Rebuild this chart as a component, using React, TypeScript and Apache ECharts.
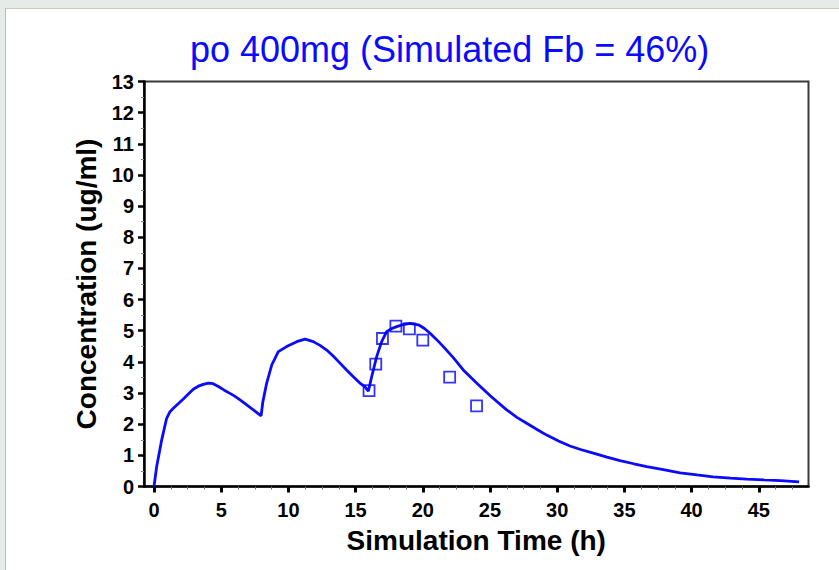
import React, { useEffect, useRef } from "react";
import * as echarts from "echarts";

const titleText = "po 400mg (Simulated Fb = 46%)";
const xAxisName = "Simulation Time (h)";
const yAxisName = "Concentration (ug/ml)";

// simulated profile (h, ug/ml)
const simTime = [
  0, 0.2, 0.57, 0.94, 1.19, 1.44, 2.18, 2.92, 3.3, 3.67, 4.04, 4.4, 4.79, 5.2, 5.65, 6.0,
  6.4, 6.9, 7.39, 7.97,
  8.1, 8.38, 8.76, 9.25, 9.87, 10.62, 11.24, 11.85, 12.35, 12.85, 13.35, 13.84, 14.33,
  14.83, 15.3, 15.7, 15.95,
  16.2, 16.57, 16.94, 17.31, 17.7, 18.06, 18.55, 19.05, 19.67, 20.1, 20.54, 21.0, 21.53,
  22.3, 23.01, 24.1, 25.1, 26.24, 27.0, 27.73, 28.5, 29.22, 30.1, 30.95, 31.8, 32.69,
  33.7, 34.67, 35.7, 36.66, 37.9, 39.14, 40.4, 41.6, 42.9, 44.1, 45.4, 46.6, 48.0,
];
const simConc = [
  0, 0.64, 1.49, 2.19, 2.4, 2.51, 2.81, 3.12, 3.22, 3.28, 3.32, 3.3, 3.21, 3.1, 2.99, 2.9,
  2.78, 2.62, 2.46, 2.27,
  2.72, 3.31, 3.9, 4.33, 4.49, 4.65, 4.73, 4.65, 4.53, 4.38, 4.18, 3.96, 3.74,
  3.52, 3.33, 3.2, 3.06,
  3.53, 4.17, 4.65, 4.97, 5.07, 5.13, 5.2, 5.24, 5.19, 5.08, 4.92, 4.73, 4.49,
  4.12, 3.74, 3.28, 2.88, 2.46, 2.22, 2.03, 1.83, 1.65, 1.46, 1.3, 1.18, 1.07,
  0.94, 0.83, 0.73, 0.64, 0.54, 0.44, 0.37, 0.31, 0.27, 0.24, 0.21, 0.19, 0.15,
];

// observed data
const obsTime = [16, 16.5, 17, 18, 19, 20, 22, 24];
const obsConc = [3.08, 3.93, 4.75, 5.15, 5.06, 4.7, 3.51, 2.59];

// axis ticks
const xMajorTicks = [0, 5, 10, 15, 20, 25, 30, 35, 40, 45];
const xMinorTicks = [
  1.25, 2.5, 3.75, 6.25, 7.5, 8.75, 11.25, 12.5, 13.75, 16.25, 17.5, 18.75, 21.25, 22.5,
  23.75, 26.25, 27.5, 28.75, 31.25, 32.5, 33.75, 36.25, 37.5, 38.75, 41.25, 42.5, 43.75,
  46.25, 47.5,
];
const xMin = -0.744;
const xMax = 48.7;
const yMin = 0;
const yMax = 13;
const yStep = 1;

const FONT = '"Liberation Sans", Arial, Helvetica, sans-serif';
const BLUE = "#0a0aff";

export default function App() {
  const ref = useRef<HTMLDivElement>(null);

  useEffect(() => {
    if (!ref.current) return;
    const chart = echarts.init(ref.current, null, { renderer: "svg" });
    const lineData = simTime.map((t, i) => [t, simConc[i]]);
    const obsData = obsTime.map((t, i) => [t, obsConc[i]]);

    chart.setOption({
      animation: false,
      backgroundColor: "#ffffff",
      title: {
        text: titleText,
        left: 190,
        top: 31,
        padding: 0,
        textStyle: {
          fontFamily: FONT,
          fontSize: 36,
          fontWeight: "normal",
          color: BLUE,
        },
      },
      graphic: [
        { type: "rect", shape: { x: 0, y: 0, width: 839, height: 8 }, style: { fill: "#e7ebe8" }, silent: true },
        { type: "rect", shape: { x: 0, y: 0, width: 5, height: 570 }, style: { fill: "#e7ebe8" }, silent: true },
        { type: "line", shape: { x1: 5, y1: 8.5, x2: 839, y2: 8.5 }, style: { stroke: "#cdc8bd", lineWidth: 1 }, silent: true },
        { type: "line", shape: { x1: 5.5, y1: 8, x2: 5.5, y2: 570 }, style: { stroke: "#b9b9b9", lineWidth: 1 }, silent: true },
      ],
      grid: {
        left: 144,
        top: 81.5,
        right: 30.5,
        bottom: 83.5,
        show: true,
        borderColor: "#3a3a3a",
        borderWidth: 2,
        backgroundColor: "transparent",
        containLabel: false,
      },
      xAxis: [
        {
          type: "value",
          min: xMin,
          max: xMax,
          position: "bottom",
          name: xAxisName,
          nameLocation: "middle",
          nameGap: 40,
          nameTextStyle: { fontFamily: FONT, fontSize: 28, fontWeight: "bold", color: "#000" },
          axisLine: { show: true, onZero: false, lineStyle: { color: "#000", width: 2.5 } },
          axisTick: {
            show: true,
            customValues: xMajorTicks,
            length: 6,
            lineStyle: { color: "#000", width: 3 },
          },
          axisLabel: {
            show: true,
            customValues: xMajorTicks,
            margin: 13,
            fontFamily: FONT,
            fontSize: 20,
            fontWeight: "bold",
            color: "#000",
          },
          splitLine: { show: false },
        },
        {
          type: "value",
          min: xMin,
          max: xMax,
          position: "bottom",
          axisLine: { show: false },
          axisTick: {
            show: true,
            customValues: xMinorTicks,
            length: 3,
            lineStyle: { color: "#666", width: 1 },
          },
          axisLabel: { show: false, customValues: xMinorTicks },
          splitLine: { show: false },
        },
      ],
      yAxis: {
        type: "value",
        min: yMin,
        max: yMax,
        interval: yStep,
        name: yAxisName,
        nameLocation: "middle",
        nameGap: 42,
        nameTextStyle: { fontFamily: FONT, fontSize: 28, fontWeight: "bold", color: "#000" },
        axisLine: { show: true, onZero: false, lineStyle: { color: "#000", width: 2.5 } },
        axisTick: { show: true, length: 6, lineStyle: { color: "#000", width: 2.5 } },
        minorTick: { show: true, splitNumber: 2, length: 3, lineStyle: { color: "#888", width: 1 } },
        axisLabel: {
          margin: 10,
          fontFamily: FONT,
          fontSize: 20,
          fontWeight: "bold",
          color: "#000",
        },
        splitLine: { show: false },
        minorSplitLine: { show: false },
      },
      series: [
        {
          type: "line",
          name: "Simulated",
          xAxisIndex: 0,
          data: lineData,
          showSymbol: false,
          symbol: "none",
          smooth: false,
          lineStyle: { color: BLUE, width: 2.8 },
          z: 3,
        },
        {
          type: "scatter",
          name: "Observed",
          xAxisIndex: 0,
          data: obsData,
          symbol: "rect",
          symbolSize: 11,
          itemStyle: { color: "rgba(0,0,0,0)", borderColor: "#0000ff", borderWidth: 1.8 },
          z: 4,
        },
      ],
    });

    return () => {
      chart.dispose();
    };
  }, []);

  return (
    <div style={{ position: "fixed", left: 0, top: 0, width: 839, height: 570, background: "#fff" }}>
      <div ref={ref} style={{ width: 839, height: 570 }} />
    </div>
  );
}
